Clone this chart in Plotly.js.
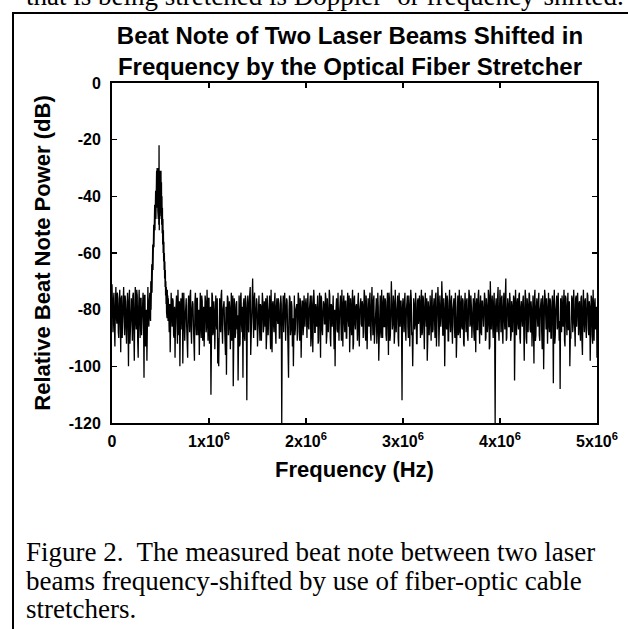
<!DOCTYPE html>
<html>
<head>
<meta charset="utf-8">
<script src="https://cdn.plot.ly/plotly-3.0.1.min.js"></script>
<style>
  html, body { margin: 0; padding: 0; background: #fff; }
  #chart { width: 628px; height: 629px; }
</style>
</head>
<body>
<div id="chart"></div>
<script>
// ---- data: power (dB) per segment; segment start / step in MHz ----
// samples on the 10 kHz grid
const noiseA = [
  -71,-88,-74,-93,-72,-85,-76,-90,-73,-95,
  -75,-84,-72,-89,-77,-92,-74,-100,-73,-86,
  -76,-91,-74,-98,-72,-87,-75,-97,-73,-90,
  -76,-85,-74,-104,-75,-88,-98,-72,-86,-74
];
const peak = [
  -82,-72,-84,-70,-80,-68,-78,-64,-74,-60,
  -70,-57,-66,-54,-62,-50,-58,-46,-55,-43,
  -52,-41,-50,-38,-48,-31,-46,-31,-44,-30,
  -42,-31,-45,-32,-48,-30,-50,-22,-52,-31,
  -47,-31,-44,-32,-46,-31,-48,-35,-50,-40,
  -53,-44,-57,-48,-60,-52,-63,-56,-66,-60,
  -69,-63,-72,-66,-75,-70,-78,-72,-81,-74,
  -83,-73,-82,-75,-84
];
const noiseB = [
  -76,-88,-95,-74,-86,-77,-90,-97,-75,-85,
  -73,-89,-100,-76,-87,-99,-74,-91,-78,-86,
  -97,-75,-88,-73,-92,-77,-86,-98,-74,-89,
  -76,-85,-96,-74,-90,-77,-87,-93,-75,-88,
  -73,-91,-76,-86,-110,-74,-89,-77,-94,-75,
  -87,-99,-100,-76,-88,-73,-92,-78,-85,-96,
  -103,-75,-89,-77,-94,-74,-86,-107,-76,-90,
  -78,-87,-105,-75,-92,-74,-88,-104,-76,-91,
  -77,-112,-75,-88,-73,-96,-86,-69,-90,-74,
  -87,-76,-93,-75,-85,-78,-91,-74,-88,-77,
  -86,-94,-75,-89,-76,-87,-73,-95,-77,-88,
  -74,-92,-76,-85,-78,-90,-75,-120,-77,-88,
  -74,-91,-76,-86,-104,-75,-89,-77,-93,-100,
  -75,-87,-78,-91,-74,-88,-76,-97,-77,-89,
  -75,-86
];
const noiseC = [
  -76,-90,-74,-87,-77,-93,-75,-95,-73,-88,
  -78,-86,-75,-91,-74,-97,-76,-89,-77,-85,
  -74,-92,-76,-88,-73,-90,-78,-86,-75,-94,
  -100,-77,-87,-74,-91,-76,-85,-73,-93,-75,
  -88,-77,-90,-74,-86,-95,-76,-89,-73,-92,
  -75,-87,-78,-91,-74,-93,-76,-85,-77,-90,
  -73,-88,-75,-94,-76,-86,-74,-91,-72,-89,
  -75,-87,-77,-92,-74,-98,-76,-88,-73,-90,
  -75,-86,-77,-91,-74,-96,-76,-89,-70,-87,
  -75,-92,-73,-88,-76,-90,-74,-86,-77,-112
];
const noiseD = [
  -76,-88,-74,-91,-77,-86,-75,-93,-73,-89,
  -100,-76,-87,-74,-92,-77,-85,-75,-90,-73,
  -88,-76,-94,-74,-86,-98,-77,-89,-75,-91,
  -73,-87,-76,-90,-74,-88,-72,-93,-75,-86,
  -70,-89,-76,-100,-74,-87,-77,-91,-73,-88,
  -75,-92,-76,-86,-74,-97,-77,-89,-73,-90,
  -75,-87,-77,-93,-74,-88,-76,-91,-73,-86,
  -75,-90,-77,-88,-74,-95,-76,-87,-73,-92,
  -75,-89,-77,-86,-74,-91,-76,-88,-73,-94,
  -70,-87,-75,-90,-74,-120,-76,-88,-72,-91
];
const noiseE = [
  -73,-88,-75,-92,-74,-87,-69,-90,-76,-86,
  -74,-91,-77,-88,-75,-105,-73,-89,-76,-87,
  -74,-92,-77,-86,-75,-98,-73,-90,-76,-88,
  -74,-87,-77,-93,-75,-99,-73,-89,-76,-86,
  -74,-91,-77,-88,-75,-101,-73,-87,-76,-92,
  -74,-88,-77,-90,-75,-106,-73,-89,-76,-87,
  -74,-91,-108,-88,-75,-86,-73,-93,-76,-89,
  -74,-87,-100,-90,-75,-88,-73,-92,-76,-86,
  -74,-89,-77,-91,-75,-96,-73,-88,-76,-90,
  -74,-87,-77,-98,-75,-89,-73,-91,-76,-86,
  -97
];
// samples at the +5 kHz offsets
const noiseAm = [
  -80,-77,-86,-79,-82,-74,-88,-78,-83,-76,
  -90,-79,-81,-75,-87,-80,-84,-77,-92,-78,
  -82,-75,-88,-80,-84,-73,-91,-79,-83,-76,
  -89,-78,-82,-75,-93,-80,-79,-84,-77
];
const noiseBm = [
  -81,-78,-84,-80,-76,-89,-79,-83,-75,-92,
  -80,-77,-85,-79,-74,-88,-81,-83,-76,-90,
  -79,-82,-75,-87,-80,-78,-93,-77,-84,-76,
  -89,-80,-78,-85,-75,-91,-79,-82,-77,-86,
  -80,-76,-92,-79,-83,-75,-88,-81,-78,-84,
  -76,-90,-79,-82,-75,-87,-80,-77,-95,-79,
  -83,-76,-86,-80,-78,-91,-75,-84,-79,-88,
  -77,-82,-80,-93,-76,-85,-79,-78,-89,-75,
  -83,-80,-86,-77,-72,-90,-79,-82,-76,-87,
  -80,-78,-84,-75,-91,-79,-83,-77,-86,-80,
  -76,-89,-79,-82,-75,-94,-80,-78,-85,-77,
  -88,-79,-83,-76,-90,-80,-78,-86,-75,-84,
  -79,-82,-77,-92,-80,-76,-87,-79,-83,-75,
  -89,-80,-78,-85,-76,-91,-79,-82,-77,-86,
  -80,-78
];
const noiseCm = [
  -82,-78,-86,-80,-75,-90,-79,-83,-77,-88,
  -80,-76,-92,-79,-84,-75,-87,-81,-78,-85,
  -76,-89,-80,-82,-75,-93,-79,-77,-86,-80,
  -83,-76,-88,-79,-82,-75,-91,-80,-78,-84,
  -77,-90,-79,-83,-75,-87,-80,-78,-94,-76,
  -85,-79,-82,-77,-89,-80,-76,-86,-79,-83,
  -75,-91,-80,-78,-85,-76,-88,-79,-82,-77,
  -92,-80,-76,-87,-79,-84,-75,-90,-80,-78,
  -86,-76,-89,-79,-83,-74,-91,-80,-78,-85,
  -77,-88,-79,-82,-75,-93,-80,-77,-86,-79
];
const noiseDm = [
  -81,-77,-87,-80,-75,-90,-79,-84,-76,-88,
  -80,-78,-85,-79,-92,-76,-83,-80,-77,-89,
  -75,-86,-79,-82,-76,-91,-80,-78,-84,-77,
  -88,-79,-83,-75,-93,-80,-77,-86,-79,-82,
  -76,-89,-80,-78,-85,-75,-91,-79,-83,-77,
  -87,-80,-76,-90,-79,-84,-75,-88,-80,-78,
  -86,-76,-92,-79,-82,-77,-89,-80,-75,-85,
  -79,-83,-76,-91,-80,-78,-87,-75,-84,-79,
  -88,-77,-82,-80,-76,-90,-79,-85,-75,-93,
  -80,-78,-86,-77,-89,-79,-83,-76,-87,-80
];
const noiseEm = [
  -80,-76,-88,-79,-83,-75,-91,-80,-78,-86,
  -77,-89,-79,-82,-76,-93,-80,-78,-85,-75,
  -90,-79,-83,-77,-87,-80,-76,-92,-79,-84,
  -75,-88,-80,-78,-86,-76,-91,-79,-82,-77,
  -89,-80,-76,-94,-79,-83,-75,-87,-80,-78,
  -85,-76,-90,-79,-82,-77,-92,-80,-75,-86,
  -79,-84,-76,-88,-80,-78,-91,-75,-83,-79,
  -87,-77,-90,-80,-76,-85,-79,-93,-75,-82,
  -80,-78,-88,-76,-91,-79,-84,-77,-86,-80,
  -75,-89,-79,-83,-76,-92,-80,-78,-87,-79
];
const segValues   = [noiseA, peak, noiseB, noiseC, noiseD, noiseE, noiseAm, noiseBm, noiseCm, noiseDm, noiseEm];
const segStartMHz = [0, 0.3925, 0.58, 2.00, 3.00, 4.00, 0.005, 0.585, 2.005, 3.005, 4.005];
const segStepMHz  = [0.01, 0.0025, 0.01, 0.01, 0.01, 0.01, 0.01, 0.01, 0.01, 0.01, 0.01];

const xTickVals = [0, 1e6, 2e6, 3e6, 4e6, 5e6];
const xTickText = ['0', '1x10<sup>6</sup>', '2x10<sup>6</sup>', '3x10<sup>6</sup>', '4x10<sup>6</sup>', '5x10<sup>6</sup>'];
const yTickVals = [0, -20, -40, -60, -80, -100, -120];
const yTickText = ['0', '-20', '-40', '-60', '-80', '-100', '-120'];

const titleText = 'Beat Note of Two Laser Beams Shifted in<br>Frequency by the Optical Fiber Stretcher';
const xTitle = 'Frequency (Hz)';
const yTitle = 'Relative Beat Note Power (dB)';
const captionLines = [
  'Figure 2.\u00a0 The measured beat note between two laser',
  'beams frequency-shifted by use of fiber-optic cable',
  'stretchers.'
];
const aboveText = 'that is being stretched is Doppler- or frequency-shifted.';

// ---- build trace (points ordered by frequency) ----
const pts = [];
segValues.forEach((vals, s) => {
  vals.forEach((v, i) => {
    pts.push([Math.round((segStartMHz[s] + i * segStepMHz[s]) * 1e6), v]);
  });
});
pts.sort((a, b) => a[0] - b[0]);
const freq = pts.map(p => p[0]);
const power = pts.map(p => p[1]);

// ---- layout helpers (pixel -> paper) ----
const W = 628, H = 629, ML = 112, MR = 31, MT = 83, MB = 206;
const PW = W - ML - MR, PH = H - MT - MB;
const px = p => (p - ML) / PW;
const py = p => (H - MB - p) / PH;

const sans = 'Liberation Sans, Arial, Helvetica, sans-serif';
const serif = 'Liberation Serif, Times New Roman, serif';
const tickFont = { family: sans, size: 16, color: '#000', weight: 'bold' };
const axisTitleFont = { family: sans, size: 22, color: '#000', weight: 'bold' };
const captionFont = { family: serif, size: 27, color: '#000', weight: 'normal' };

const annotations = captionLines.map((t, i) => ({
  text: t, xref: 'paper', yref: 'paper', x: px(24), y: py([552, 581, 609][i]),
  xanchor: 'left', yanchor: 'middle', showarrow: false,
  font: captionFont
}));
annotations.push({
  text: aboveText, xref: 'paper', yref: 'paper', x: px(24), y: py(-4),
  xanchor: 'left', yanchor: 'middle', showarrow: false,
  font: captionFont
});

const shapes = [
  { type: 'line', xref: 'paper', yref: 'paper', x0: px(13), x1: px(13), y0: py(12), y1: py(700), line: { color: '#000', width: 2 } },
  { type: 'line', xref: 'paper', yref: 'paper', x0: px(12), x1: px(700), y0: py(13), y1: py(13), line: { color: '#000', width: 2 } }
];

const axisCommon = {
  showgrid: false, zeroline: false, showline: true, linecolor: '#000', linewidth: 2,
  mirror: 'ticks', ticks: 'inside', ticklen: 5, tickwidth: 1.5, tickcolor: '#000',
  tickfont: tickFont
};

const layout = {
  width: W, height: H,
  font: { family: sans, size: 16, color: '#000' },
  margin: { l: ML, r: MR, t: MT, b: MB, pad: 0 },
  paper_bgcolor: '#fff', plot_bgcolor: '#fff',
  showlegend: false,
  title: {
    text: titleText, xref: 'container', yref: 'container',
    x: 350 / W, xanchor: 'center', y: 1 - 44 / H, yanchor: 'middle',
    font: { family: sans, size: 24, color: '#000', weight: 'bold' }
  },
  xaxis: Object.assign({}, axisCommon, {
    range: [0, 5e6], tickmode: 'array', tickvals: xTickVals, ticktext: xTickText,
    ticklabelstandoff: 3,
    title: { text: xTitle, standoff: 12, font: axisTitleFont }
  }),
  yaxis: Object.assign({}, axisCommon, {
    range: [-120, 0], tickmode: 'array', tickvals: yTickVals, ticktext: yTickText,
    ticklabelstandoff: 6,
    title: { text: yTitle, standoff: 12, font: axisTitleFont }
  }),
  annotations: annotations,
  shapes: shapes
};

const trace = {
  type: 'scatter', mode: 'lines', x: freq, y: power,
  line: { color: '#000', width: 1.3 }, hoverinfo: 'skip'
};

Plotly.newPlot('chart', [trace], layout, { displayModeBar: false, staticPlot: true });
</script>
</body>
</html>
